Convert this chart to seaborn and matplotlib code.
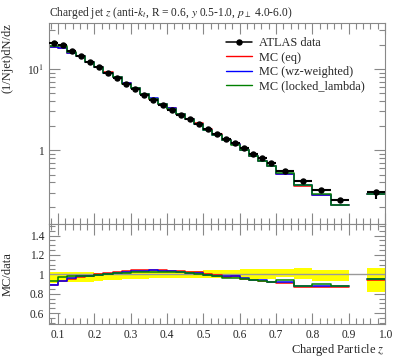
import numpy as np
import pandas as pd
import matplotlib
matplotlib.use("Agg")
import matplotlib.pyplot as plt
from matplotlib.lines import Line2D
from matplotlib.ticker import MultipleLocator, FixedLocator, NullFormatter, FuncFormatter, LogLocator
import seaborn as sns

# bin edges of the charged-particle z histogram (gap between 0.9 and 0.95)
bin_lo = [0.075, 0.1, 0.125, 0.15, 0.175, 0.2, 0.225, 0.25, 0.275, 0.3,
          0.325, 0.35, 0.375, 0.4, 0.425, 0.45, 0.475, 0.5, 0.525, 0.55,
          0.575, 0.6, 0.625, 0.65, 0.675, 0.7, 0.75, 0.8, 0.85, 0.95]
bin_hi = [0.1, 0.125, 0.15, 0.175, 0.2, 0.225, 0.25, 0.275, 0.3, 0.325,
          0.35, 0.375, 0.4, 0.425, 0.45, 0.475, 0.5, 0.525, 0.55, 0.575,
          0.6, 0.625, 0.65, 0.675, 0.7, 0.75, 0.8, 0.85, 0.9, 1.0]

# ATLAS data (1/Njet) dN/dz
atlas = [20.9, 19.6, 16.7, 14.7, 12.3, 10.7, 9.0, 7.8, 6.5, 5.65,
         4.78, 4.15, 3.61, 3.16, 2.75, 2.39, 2.09, 1.80, 1.58, 1.37,
         1.21, 1.05, 0.91, 0.79, 0.69, 0.55, 0.42, 0.32, 0.24, 0.305]
# relative data uncertainty band (lower / upper edge, as seen in ratio panel)
band_lo = [0.91, 0.917, 0.917, 0.92, 0.925, 0.935, 0.94, 0.945, 0.948, 0.952,
           0.955, 0.958, 0.962, 0.965, 0.962, 0.962, 0.962, 0.962, 0.962, 0.96,
           0.958, 0.955, 0.952, 0.95, 0.95, 0.97, 0.951, 0.935, 0.927, 0.817]
band_hi = [1.021, 1.024, 1.025, 1.021, 1.021, 1.014, 1.014, 1.021, 1.028, 1.035,
           1.035, 1.035, 1.042, 1.042, 1.035, 1.035, 1.038, 1.04, 1.042, 1.045,
           1.048, 1.05, 1.058, 1.058, 1.055, 1.055, 1.062, 1.041, 1.041, 1.065]

# MC / data ratios
ratio_eq = [0.89, 0.93, 0.955, 0.975, 0.985, 1.0, 1.01, 1.02, 1.03, 1.042,
            1.042, 1.045, 1.042, 1.035, 1.03, 1.02, 1.022, 1.0, 0.99, 0.975,
            0.978, 0.955, 0.942, 0.935, 0.92, 0.915, 0.872, 0.872, 0.872, 0.945]
ratio_wz = [0.893, 0.935, 0.958, 0.979, 0.985, 0.997, 1.007, 1.018, 1.028, 1.038,
            1.038, 1.049, 1.038, 1.038, 1.028, 1.018, 1.01, 0.997, 0.986, 0.979,
            0.979, 0.958, 0.945, 0.938, 0.917, 0.917, 0.876, 0.876, 0.876, 0.948]
ratio_ll = [0.927, 0.969, 0.979, 0.979, 0.982, 0.993, 1.003, 1.01, 1.017, 1.024,
            1.024, 1.028, 1.021, 1.024, 1.021, 1.01, 1.003, 0.993, 0.979, 0.965,
            0.965, 0.952, 0.945, 0.927, 0.924, 0.938, 0.88, 0.9, 0.88, 0.955]

mc_names = ["MC (eq)", "MC (wz-weighted)", "MC (locked_lambda)"]
mc_colors = ["red", "blue", "green"]
mc_ratios = [ratio_eq, ratio_wz, ratio_ll]

sns.set_style("ticks")
plt.rcParams['font.family'] = ['Liberation Serif', 'DejaVu Serif']
plt.rcParams['mathtext.fontset'] = 'stix'

lo = np.array(bin_lo)
hi = np.array(bin_hi)
centers = (lo + hi) / 2
halfw = (hi - lo) / 2
data = np.array(atlas)
blo = np.array(band_lo)
bhi = np.array(band_hi)

# contiguous groups of bins
segments = []
cur = [0]
for i in range(1, len(lo)):
    if abs(lo[i] - hi[i - 1]) < 1e-9:
        cur.append(i)
    else:
        segments.append(cur)
        cur = [i]
segments.append(cur)


def steps(ax, vals, color):
    for seg in segments:
        xs = list(lo[seg]) + [hi[seg[-1]]]
        ys = list(vals[seg]) + [vals[seg[-1]]]
        df = pd.DataFrame({'x': xs, 'y': ys})
        sns.lineplot(data=df, x='x', y='y', drawstyle='steps-post', color=color,
                     lw=1.1, estimator=None, sort=False, ax=ax)


fig = plt.figure(figsize=(3.97, 3.58), dpi=100)
ax1 = fig.add_axes([49 / 397, 1 - 224 / 358, 336 / 397, 201 / 358])
ax2 = fig.add_axes([49 / 397, 1 - 324 / 358, 336 / 397, 100 / 358], sharex=ax1)

# main panel
for name, col, r in zip(mc_names, mc_colors, mc_ratios):
    steps(ax1, data * np.array(r), col)
ax1.errorbar(centers, data, xerr=halfw, yerr=[data * (1 - blo), data * (bhi - 1)],
             fmt='o', color='black', ms=3.6, elinewidth=1.5, capsize=0, zorder=5)
ax1.set_yscale('log')
ax1.set_ylim(0.123, 37)
ax1.set_xlim(0.075, 1.0)
ax1.yaxis.set_major_locator(FixedLocator([1, 10]))
ax1.yaxis.set_major_formatter(FuncFormatter(lambda v, p: "1" if v == 1 else r"10$^{1}$"))
ax1.yaxis.set_minor_locator(LogLocator(base=10, subs=np.arange(2, 10)))
ax1.yaxis.set_minor_formatter(NullFormatter())
ax1.tick_params(axis='x', labelbottom=False)
ax1.set_xlabel("")
ax1.set_ylabel("(1/Njet)dN/dz", loc='top', fontsize=9)
ax1.yaxis.set_label_coords(-0.105, 1.0)
ax1.set_title(r"Charged jet $z$ (anti-$k_t$, R = 0.6, $y$ 0.5-1.0, $p_\perp$ 4.0-6.0)",
              loc='left', fontsize=8.3, pad=5)

handles = [Line2D([], [], color='black', marker='o', ms=3.6, lw=1.1, label="ATLAS data")]
for name, col in zip(mc_names, mc_colors):
    handles.append(Line2D([], [], color=col, lw=1.0, label=name))
ax1.legend(handles=handles, loc='upper left', bbox_to_anchor=(0.527, 0.93), frameon=False,
           fontsize=8.8, handlelength=2.1, handletextpad=0.6, labelspacing=0.2,
           borderpad=0, borderaxespad=0)

# ratio panel
ax2.bar(centers, bhi - blo, bottom=blo, width=hi - lo, color='yellow', lw=0, zorder=1)
ax2.axhline(1.0, color='#999999', lw=1.0, zorder=2)
for name, col, r in zip(mc_names, mc_colors, mc_ratios):
    steps(ax2, np.array(r), col)
ax2.set_ylim(0.487, 1.52)
ax2.set_xlim(0.075, 1.0)
ax2.yaxis.set_major_locator(FixedLocator([0.6, 0.8, 1.0, 1.2, 1.4]))
ax2.yaxis.set_major_formatter(FuncFormatter(lambda v, p: "1" if abs(v - 1) < 1e-6 else f"{v:.1f}"))
ax2.yaxis.set_minor_locator(MultipleLocator(0.05))
ax2.xaxis.set_major_locator(MultipleLocator(0.1))
ax2.xaxis.set_minor_locator(MultipleLocator(0.02))
ax2.xaxis.set_major_formatter(FuncFormatter(lambda v, p: f"{v:.1f}"))
ax2.set_ylabel("MC/data", fontsize=9)
ax2.yaxis.set_label_coords(-0.105, 0.5)
ax2.set_xlabel(r"Charged Particle $z$", loc='right', fontsize=9, labelpad=1)

for ax in (ax1, ax2):
    ax.tick_params(which='both', direction='in', top=True, right=True,
                   labelsize=8.3, color='#888888', width=0.8)
    ax.tick_params(which='major', length=8)
    ax.tick_params(which='minor', length=4)
    for sp in ax.spines.values():
        sp.set_color('#888888')
        sp.set_linewidth(0.8)

fig.savefig("out.png", dpi=100)
